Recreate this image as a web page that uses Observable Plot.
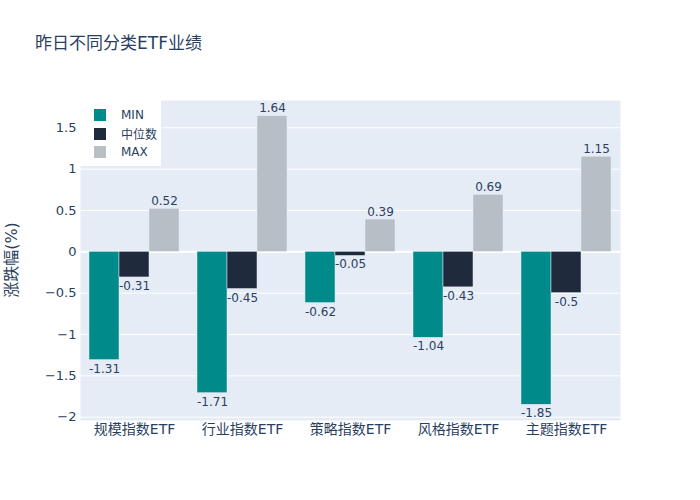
<!DOCTYPE html>
<html>
<head>
<meta charset="utf-8">
<script src="https://cdn.jsdelivr.net/npm/d3@7"></script>
<script src="https://cdn.jsdelivr.net/npm/@observablehq/plot@0.6"></script>
<style>
  html, body { margin: 0; padding: 0; background: white; }
  #wrap { position: relative; width: 700px; height: 500px; font-family: "DejaVu Sans", "Noto Sans CJK SC", sans-serif; color: #2a3f5f; }
  #title { position: absolute; left: 35px; top: 35px; font-size: 17px; line-height: 17px; white-space: nowrap; }
  #ytitle { position: absolute; left: 12px; top: 260px; font-size: 16px; line-height: 16px; white-space: nowrap; transform: translate(-50%, -50%) rotate(-90deg); }
  #legend { position: absolute; left: 80px; top: 100px; width: 81px; height: 66px; background: white; font-size: 12px; }
  .item { position: absolute; left: 14px; height: 14px; display: flex; align-items: center; }
  .sw { width: 12px; height: 12px; margin-right: 15px; }
  #chart { position: absolute; left: 0; top: 0; }
</style>
</head>
<body>
<div id="wrap">
  <div id="chart"></div>
  <div id="title">昨日不同分类ETF业绩</div>
  <div id="ytitle">涨跌幅(%)</div>
  <div id="legend"></div>
</div>
<script>
const categories = ["规模指数ETF", "行业指数ETF", "策略指数ETF", "风格指数ETF", "主题指数ETF"];
const seriesNames = ["MIN", "中位数", "MAX"];
const minVals = [-1.31, -1.71, -0.62, -1.04, -1.85];
const medVals = [-0.31, -0.45, -0.05, -0.43, -0.5];
const maxVals = [0.52, 1.64, 0.39, 0.69, 1.15];
const colors = ["#008b8a", "#1f2a3c", "#b8bec6"];
const yTicks = [-2, -1.5, -1, -0.5, 0, 0.5, 1, 1.5];

const seriesVals = [minVals, medVals, maxVals];
const data = [];
categories.forEach((c, i) => {
  seriesNames.forEach((s, j) => {
    data.push({cat: c, series: s, value: seriesVals[j][i]});
  });
});

const fmt = d => (d < 0 ? "\u2212" : "") + String(Math.abs(d));

const chart = Plot.plot({
  width: 700,
  height: 500,
  marginLeft: 80,
  marginRight: 80,
  marginTop: 100,
  marginBottom: 80,
  style: {fontFamily: "'DejaVu Sans', 'Noto Sans CJK SC', sans-serif", color: "#2a3f5f", background: "transparent"},
  fx: {domain: categories, padding: 0, label: null},
  x: {domain: seriesNames, paddingInner: 0, paddingOuter: 0.3, axis: null},
  y: {domain: [-2.04, 1.83], ticks: yTicks, label: null},
  color: {domain: seriesNames, range: colors},
  marks: [
    Plot.frame({fill: "#E5ECF6", stroke: null, facet: "super"}),
    Plot.gridY(yTicks, {stroke: "white", strokeOpacity: 1, strokeWidth: 1}),
    Plot.ruleY([0], {stroke: "white", strokeWidth: 2}),
    Plot.barY(data, {fx: "cat", x: "series", y: "value", fill: "series", stroke: "#E5ECF6", strokeWidth: 0.5}),
    Plot.text(data.filter(d => d.value >= 0), {fx: "cat", x: "series", y: "value", text: d => String(d.value), lineAnchor: "bottom", dy: -4, fill: "#2a3f5f", fontSize: 12}),
    Plot.text(data.filter(d => d.value < 0), {fx: "cat", x: "series", y: "value", text: d => String(d.value), lineAnchor: "top", dy: 4, fill: "#2a3f5f", fontSize: 12}),
    Plot.axisY(yTicks, {tickSize: 0, tickPadding: 4, fontSize: 13, label: null, tickFormat: fmt}),
    Plot.axisFx({anchor: "bottom", tickSize: 0, tickPadding: 4, fontSize: 14, label: null})
  ]
});
document.getElementById("chart").appendChild(chart);

const legend = document.getElementById("legend");
seriesNames.forEach((s, j) => {
  const item = document.createElement("div");
  item.className = "item";
  item.style.top = (8 + j * 18.5) + "px";
  const sw = document.createElement("div");
  sw.className = "sw";
  sw.style.background = colors[j];
  const t = document.createElement("span");
  t.textContent = s;
  item.appendChild(sw);
  item.appendChild(t);
  legend.appendChild(item);
});
</script>
</body>
</html>
